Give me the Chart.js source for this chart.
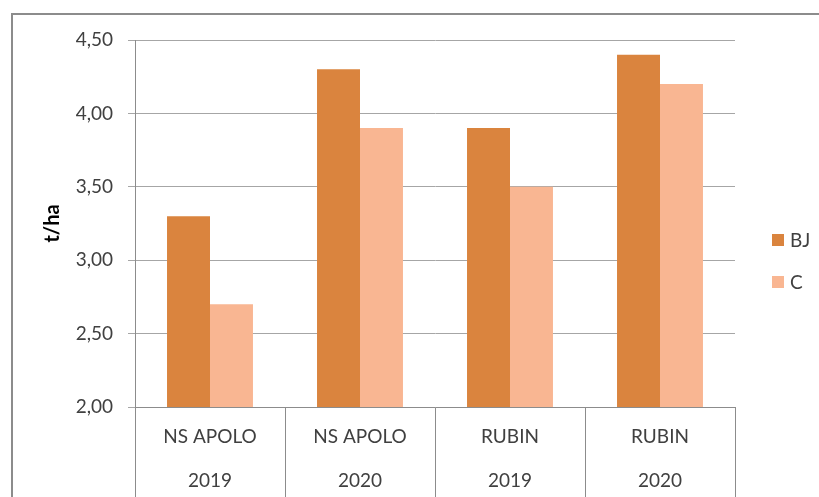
<!DOCTYPE html>
<html>
<head>
<meta charset="utf-8">
<script src="https://cdn.jsdelivr.net/npm/chart.js@4/dist/chart.umd.min.js"></script>
<style>
  body { margin: 0; background: #fff; }
  canvas { display: block; }
</style>
</head>
<body>
<canvas id="grafico" width="819" height="497"></canvas>
<script>
// datos
const sorte = ['NS APOLO', 'NS APOLO', 'RUBIN', 'RUBIN'];
const godine = ['2019', '2020', '2019', '2020'];
const bjVrednosti = [3.30, 4.30, 3.90, 4.40];
const cVrednosti = [2.70, 3.90, 3.50, 4.20];
const serije = ['BJ', 'C'];

const labels = sorte.map((s, i) => [s, godine[i]]);
const fuente = 'Lato, "Open Sans", sans-serif';
const texto = '#404040';

// marco exterior
const marco = {
  id: 'marco',
  beforeDraw(chart) {
    const c = chart.ctx;
    c.save();
    c.strokeStyle = '#8c8c8c';
    c.lineWidth = 2;
    c.strokeRect(12, 14, 900, 600);
    c.restore();
  }
};

// leyenda a la derecha
const leyenda = {
  id: 'leyenda',
  afterDraw(chart) {
    const c = chart.ctx;
    c.save();
    c.font = '19px ' + fuente;
    c.textBaseline = 'middle';
    c.fillStyle = texto;
    chart.data.datasets.forEach((ds, i) => {
      const y = 240 + i * 42;
      c.fillStyle = ds.backgroundColor;
      c.fillRect(772, y - 6, 12, 12);
      c.fillStyle = texto;
      c.fillText(ds.label, 790, y + 1);
    });
    c.restore();
  }
};

new Chart(document.getElementById('grafico'), {
  type: 'bar',
  data: {
    labels: labels,
    datasets: [
      { label: serije[0], data: bjVrednosti, backgroundColor: '#DA843E' },
      { label: serije[1], data: cVrednosti, backgroundColor: '#F9B692' }
    ]
  },
  options: {
    responsive: false,
    animation: false,
    layout: { padding: { left: 0, top: 40, right: 84, bottom: 0 } },
    datasets: { bar: { categoryPercentage: 0.573, barPercentage: 1 } },
    plugins: {
      legend: { display: false },
      tooltip: { enabled: false }
    },
    scales: {
      x: {
        grid: { offset: true, drawOnChartArea: false, tickLength: 90, color: '#8c8c8c' },
        border: { color: '#8c8c8c' },
        ticks: {
          padding: -82,
          maxRotation: 0,
          color: texto,
          font: { family: fuente, size: 19, lineHeight: 2.3 }
        },
        afterFit(scale) { scale.height = 90; }
      },
      y: {
        min: 2,
        max: 4.5,
        grid: { color: '#a6a6a6', tickLength: 7 },
        border: { color: '#8c8c8c' },
        ticks: {
          stepSize: 0.5,
          padding: 15,
          color: texto,
          font: { family: fuente, size: 19 },
          callback: v => v.toFixed(2).replace('.', ',')
        },
        title: {
          display: true,
          text: 't/ha',
          color: '#000',
          font: { family: fuente, size: 20, weight: 'bold' },
          padding: { top: 41 }
        },
        afterFit(scale) { scale.width = 135; }
      }
    }
  },
  plugins: [marco, leyenda]
});
</script>
</body>
</html>
